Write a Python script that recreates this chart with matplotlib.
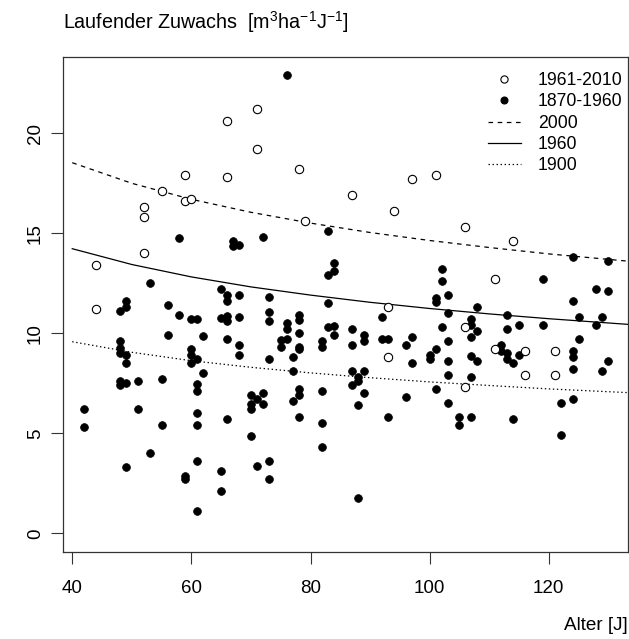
import matplotlib
matplotlib.use('Agg')
import matplotlib.pyplot as plt
from matplotlib.lines import Line2D

plt.rcParams['font.family'] = ['Liberation Sans', 'DejaVu Sans']
plt.rcParams['mathtext.fontset'] = 'custom'
plt.rcParams['mathtext.rm'] = 'Liberation Sans'
plt.rcParams['mathtext.it'] = 'Liberation Sans:italic'
plt.rcParams['mathtext.bf'] = 'Liberation Sans:bold'
plt.rcParams['lines.scale_dashes'] = False

# ---- data: 1961-2010 (open circles) ----
open_age = [44, 44, 52, 52, 52, 55, 59, 59, 60, 66, 66, 71, 71, 78, 79, 87,
            93, 93, 94, 97, 101, 106, 106, 106, 111, 111, 114, 116, 116, 121, 121]
open_val = [13.4, 11.2, 16.3, 15.8, 14.0, 17.1, 17.9, 16.6, 16.7, 20.6, 17.8, 21.2, 19.2, 18.2, 15.6, 16.9,
            11.3, 8.8, 16.1, 17.7, 17.9, 15.3, 10.3, 7.3, 12.7, 9.2, 14.6, 9.1, 7.9, 9.1, 7.9]

# ---- data: 1870-1960 (filled circles) ----
filled_age = (
    [42] * 2 + [48] * 6 + [49] * 6 + [51] * 2 + [53] * 2 + [55] * 2 + [56] * 2 + [58] * 2 +
    [59] * 2 + [60] * 4 + [61] * 8 + [62] * 2 + [65] * 4 + [66] * 6 + [67] * 2 + [68] * 5 +
    [70] * 4 + [71] * 2 + [72] * 3 + [73] * 6 + [75] * 2 + [76] * 4 + [77] * 3 + [78] * 8 +
    [82] * 5 + [83] * 4 + [84] * 4 + [87] * 4 + [88] * 4 + [89] * 4 + [92] * 2 + [93] * 2 +
    [96] * 2 + [97] * 2 + [100] * 2 + [101] * 4 + [102] * 3 + [103] * 6 + [105] * 2 +
    [107] * 6 + [108] * 3 + [112] * 2 + [113] * 4 + [114] * 2 + [115] * 2 + [119] * 2 +
    [122] * 2 + [124] * 6 + [125] * 2 + [128] * 2 + [129] * 2 + [130] * 3
)
filled_val = (
    [6.2, 5.3] +                                  # 42
    [11.1, 9.6, 9.25, 9.0, 7.6, 7.4] +            # 48
    [11.6, 11.3, 8.9, 8.5, 7.5, 3.3] +            # 49
    [7.6, 6.2] +                                  # 51
    [12.5, 4.0] +                                 # 53
    [7.7, 5.4] +                                  # 55
    [11.4, 9.9] +                                 # 56
    [14.75, 10.9] +                               # 58
    [2.85, 2.7] +                                 # 59
    [10.7, 9.2, 8.9, 8.5] +                       # 60
    [10.7, 8.7, 7.45, 7.1, 6.0, 5.4, 3.6, 1.1] +  # 61
    [9.85, 8.0] +                                 # 62
    [12.2, 10.75, 3.1, 2.1] +                     # 65
    [11.9, 11.6, 10.85, 10.6, 9.7, 5.7] +         # 66
    [14.6, 14.35] +                               # 67
    [14.4, 11.9, 10.8, 9.4, 8.9] +                # 68
    [6.9, 6.45, 6.2, 4.85] +                      # 70
    [6.7, 3.35] +                                 # 71
    [14.8, 7.0, 6.45] +                           # 72
    [11.8, 11.05, 10.6, 8.7, 3.6, 2.7] +          # 73
    [9.65, 9.3] +                                 # 75
    [22.9, 10.5, 10.2, 9.7] +                     # 76
    [8.8, 8.1, 6.6] +                             # 77
    [10.9, 10.65, 10.0, 9.3, 9.2, 7.2, 6.9, 5.8] +  # 78
    [9.6, 9.3, 7.1, 5.5, 4.3] +                   # 82
    [15.1, 12.9, 11.5, 10.3] +                    # 83
    [13.5, 13.1, 10.35, 9.9] +                    # 84
    [10.2, 9.4, 8.1, 7.4] +                       # 87
    [7.8, 7.6, 6.4, 1.75] +                       # 88
    [9.9, 9.6, 8.1, 7.0] +                        # 89
    [10.8, 9.7] +                                 # 92
    [9.7, 5.8] +                                  # 93
    [9.4, 6.8] +                                  # 96
    [9.8, 8.5] +                                  # 97
    [8.9, 8.7] +                                  # 100
    [11.75, 11.55, 9.2, 7.2] +                    # 101
    [13.2, 12.6, 10.3] +                          # 102
    [11.9, 11.0, 9.6, 8.6, 7.9, 6.5] +            # 103
    [5.8, 5.4] +                                  # 105
    [10.7, 10.4, 9.8, 8.85, 7.8, 5.8] +           # 107
    [11.3, 10.1, 8.6] +                           # 108
    [9.4, 9.1] +                                  # 112
    [10.9, 10.2, 9.0, 8.7] +                      # 113
    [8.5, 5.7] +                                  # 114
    [10.4, 8.9] +                                 # 115
    [12.7, 10.4] +                                # 119
    [6.5, 4.9] +                                  # 122
    [13.8, 11.6, 9.1, 8.8, 8.2, 6.7] +            # 124
    [10.8, 9.7] +                                 # 125
    [12.2, 10.4] +                                # 128
    [10.8, 8.1] +                                 # 129
    [13.6, 12.1, 8.6]                             # 130
)

# ---- model curves ----
curve_age = [40, 50, 60, 70, 80, 90, 100, 110, 120, 135]
curve_2000 = [18.53, 17.50, 16.70, 16.05, 15.51, 15.04, 14.64, 14.29, 13.97, 13.56]
curve_1960 = [14.23, 13.44, 12.82, 12.32, 11.91, 11.55, 11.24, 10.97, 10.73, 10.41]
curve_1900 = [9.58, 9.05, 8.63, 8.30, 8.02, 7.78, 7.57, 7.39, 7.22, 7.01]

legend_labels = ['1961-2010', '1870-1960', '2000', '1960', '1900']
x_ticks = [40, 60, 80, 100, 120]
y_ticks = [0, 5, 10, 15, 20]

W, H = 629, 639
fig = plt.figure(figsize=(W / 100, H / 100), dpi=100)
L, R, T, B = 63.3, 628.0, 56.7, 551.7
ax = fig.add_axes([L / W, 1 - B / H, (R - L) / W, (B - T) / H])

dash_style = (0, (3.3, 3.3))
dot_style = (0, (1.0, 1.9))

ax.plot(curve_age, curve_2000, color='black', lw=0.9, linestyle=dash_style)
ax.plot(curve_age, curve_1960, color='black', lw=0.9, linestyle='-')
ax.plot(curve_age, curve_1900, color='black', lw=0.9, linestyle=dot_style)

ax.plot(filled_age, filled_val, linestyle='none', marker='o', markersize=5.6,
        markerfacecolor='black', markeredgecolor='black', markeredgewidth=0.5)
ax.plot(open_age, open_val, linestyle='none', marker='o', markersize=6.0,
        markerfacecolor='white', markeredgecolor='black', markeredgewidth=0.8)

ax.set_xlim(38.5, 133.3)
ax.set_ylim(-0.92, 23.83)
ax.set_xticks(x_ticks)
ax.set_yticks(y_ticks)
ax.tick_params(axis='both', direction='out', length=8.5, width=0.8, labelsize=13.5, color='#333333')
ax.tick_params(axis='x', pad=12)
ax.tick_params(axis='y', pad=5.5)
for lab in ax.get_yticklabels():
    lab.set_rotation(90)
    lab.set_va('center')
for sp in ax.spines.values():
    sp.set_linewidth(0.9)
    sp.set_color('#333333')

handles = [
    Line2D([], [], linestyle='none', marker='o', markersize=5.2, markerfacecolor='white',
           markeredgecolor='black', markeredgewidth=0.8),
    Line2D([], [], linestyle='none', marker='o', markersize=4.8, markerfacecolor='black',
           markeredgecolor='black'),
    Line2D([], [], color='black', lw=0.9, linestyle=dash_style),
    Line2D([], [], color='black', lw=0.9, linestyle='-'),
    Line2D([], [], color='black', lw=0.9, linestyle=dot_style),
]
ax.legend(handles, legend_labels, loc='upper left', bbox_to_anchor=(0.7516, 0.969),
          frameon=False, fontsize=12.7, handlelength=1.9, handletextpad=0.93,
          borderpad=0, borderaxespad=0, labelspacing=0.245)

fig.text(L / W, 1 - 28.5 / H,
         r'Laufender Zuwachs  [m$^{\mathrm{3}}$ha$^{\mathrm{-1}}$J$^{\mathrm{-1}}$]',
         fontsize=14.2, ha='left', va='baseline')
fig.text(628 / W, 1 - 625 / H, 'Alter [J]', fontsize=13.6, ha='right', va='center')

fig.savefig('out.png', dpi=100, facecolor='white')
